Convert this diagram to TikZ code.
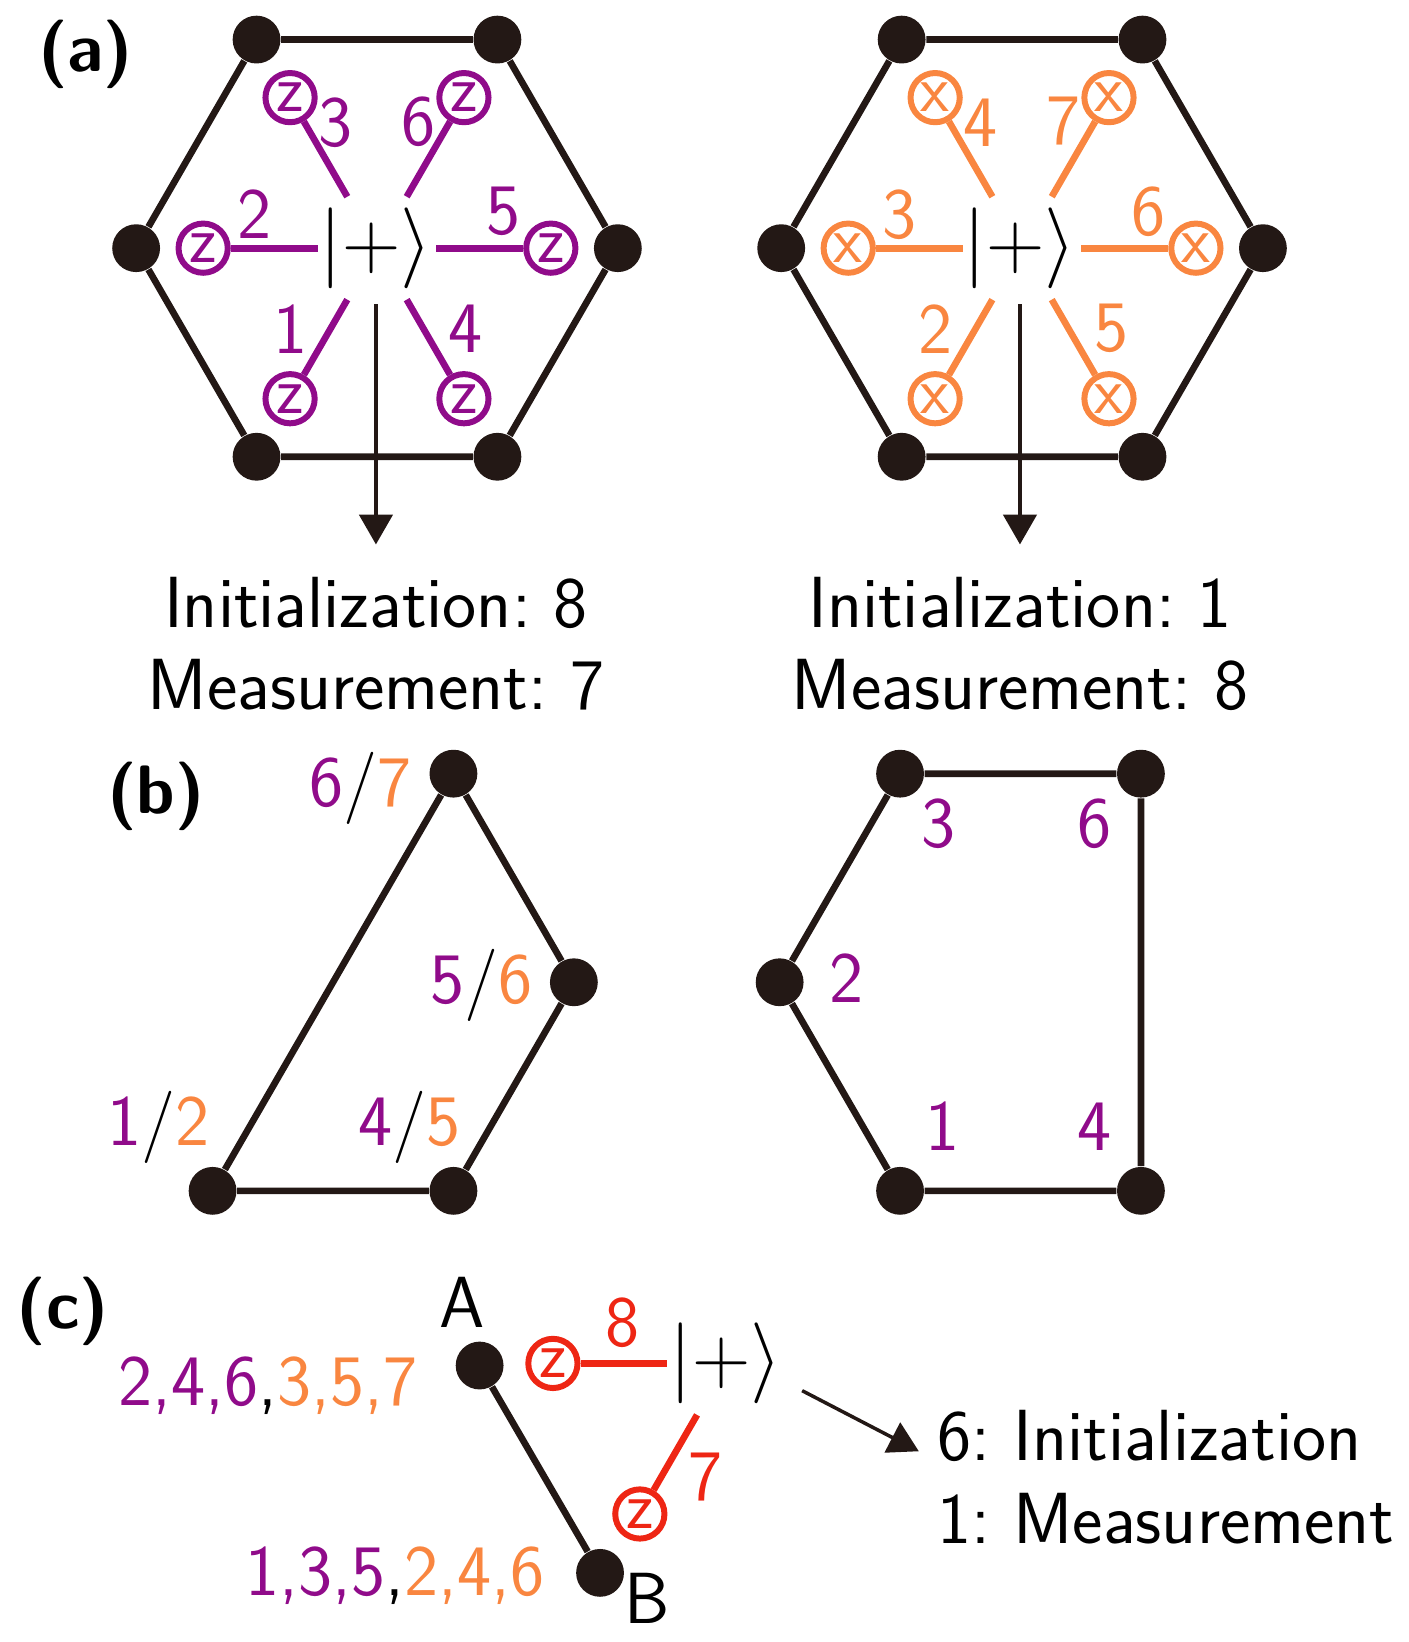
\documentclass[tikz,border=0pt]{standalone}
\usepackage{fix-cm}
\usepackage{fontspec}
\usepackage{xcolor}
\usepackage{tikz}
\usetikzlibrary{arrows.meta,positioning,calc}
\definecolor{qPurple}{HTML}{900B8A}
\definecolor{qOrange}{HTML}{F98640}
\definecolor{qRed}{HTML}{EE2614}
\definecolor{qInk}{HTML}{231815}
\frenchspacing

\begin{document}
\begin{tikzpicture}[x=0.10468mm, y=0.10468mm,
    font=\fontsize{20.6}{23.2}\selectfont\sffamily,
    dot/.style={circle, fill=qInk, inner sep=0pt, minimum size=13.6pt},
    edge/.style={qInk, line width=1.9pt},
    qbit/.style={circle, draw=#1, text=#1, line width=1.7pt, inner sep=0pt, minimum size=14pt,
        font=\fontsize{19}{20}\selectfont\sffamily},
    spoke/.style={draw=#1, line width=1.9pt, shorten >=16.9pt},
    ket/.style={inner sep=0pt, font=\fontsize{23}{27}\selectfont},
    flow/.style={-{Triangle[width=9.5pt, length=8.5pt]}, draw=qInk, fill=qInk, line width=1pt},
    tag/.style={font=\fontsize{19.5}{23.2}\selectfont\sffamily\bfseries},
    num/.style={inner sep=0pt}]
    \useasboundingbox (0,0) rectangle (1345,1568);

    % (a) two hexagons
    \node[tag] (tagA) at (81.5,1516.5) {(a)};
    \coordinate (cA) at (360,1331);
    \coordinate (cB) at (976,1331);
    \foreach \k in {1,...,6} {
        \node[dot] (hA\k) at ($(cA)+(\k*60-60:230)$) {};
        \node[dot] (hB\k) at ($(cB)+(\k*60-60:230)$) {};
    }
    \draw[edge] (hA1) -- (hA2) -- (hA3) -- (hA4) -- (hA5) -- (hA6) -- (hA1);
    \draw[edge] (hB1) -- (hB2) -- (hB3) -- (hB4) -- (hB5) -- (hB6) -- (hB1);
    \node[ket] (ketA) at (359,1331) {$|+\rangle$};
    \node[ket] (ketB) at (974,1331) {$|+\rangle$};
    \foreach \a/\n/\m/\lx/\ly in {240/1/2/-83/-77, 180/2/3/-117/32, 120/3/4/-40/120,
                                300/4/5/85/-77, 0/5/6/121/35, 60/6/7/40/121} {
        \node[qbit=qPurple] (zA\n) at ($(cA)+(\a:166)$) {z};
        \draw[spoke=qPurple] (zA\n) -- (cA);
        \node[num, text=qPurple] (nA\n) at ($(cA)+(\lx,\ly)$) {\n};
        \node[qbit=qOrange] (xB\m) at ($(cB)+(\a:166)$) {x};
        \draw[spoke=qOrange] (xB\m) -- (cB);
        \node[num, text=qOrange] (nB\m) at ($(cB)+(\lx,\ly)$) {\m};
    }
    \node[align=center, anchor=north, inner sep=0pt] (initA) at (359,1017.2)
        {Initialization: 8\\ Measurement: 7};
    \node[align=center, anchor=north, inner sep=0pt] (initB) at (974,1017.2)
        {Initialization: 1\\ Measurement: 8};
    \draw[flow, shorten <=4.2pt, shorten >=9.2pt] (ketA.south) -- (initA.north);
    \draw[flow, shorten <=4.2pt, shorten >=9.2pt] (ketB.south) -- (initB.north);

    % (b)
    \node[tag] (tagB) at (149,807.7) {(b)};
    \coordinate (cD) at (318,630);
    \coordinate (cE) at (974.5,630);
    \foreach \k/\a in {1/60, 2/0, 3/300, 4/240}
        \node[dot] (hD\k) at ($(cD)+(\a:230)$) {};
    \foreach \k/\a in {1/120, 2/60, 3/300, 4/240, 5/180}
        \node[dot] (hE\k) at ($(cE)+(\a:230)$) {};
    \draw[edge] (hD4) -- (hD1) -- (hD2) -- (hD3) -- (hD4);
    \draw[edge] (hE1) -- (hE2) -- (hE3) -- (hE4) -- (hE5) -- (hE1);
    \node[num, anchor=base] (lD1) at (344.7,797.4) {\textcolor{qPurple}{6}/\textcolor{qOrange}{7}};
    \node[num, anchor=base] (lD2) at (460,610) {\textcolor{qPurple}{5}/\textcolor{qOrange}{6}};
    \node[num, anchor=base] (lD3) at (391,474) {\textcolor{qPurple}{4}/\textcolor{qOrange}{5}};
    \node[num, anchor=base] (lD4) at (151,474) {\textcolor{qPurple}{1}/\textcolor{qOrange}{2}};
    \foreach \n/\px/\py in {3/896.4/758.5, 6/1045/758.5, 2/808.2/611, 1/900.2/469, 4/1045/469}
        \node[num, anchor=base, text=qPurple] (lE\n) at (\px,\py) {\n};

    % (c)
    \node[tag] (tagC) at (60,315.7) {(c)};
    \node[dot] (ptA) at (458,264) {};
    \node[dot] (ptB) at (573,66) {};
    \draw[edge] (ptA) -- (ptB);
    \node[num, anchor=base] (labA) at (441,300) {A};
    \node[num, anchor=base] (labB) at (618,18) {B};
    \coordinate (cC) at (694,266);
    \node[ket] (ketC) at (693,266) {$|+\rangle$};
    \node[qbit=qRed] (zC8) at ($(cC)+(180:166)$) {z};
    \node[qbit=qRed] (zC7) at ($(cC)+(240:166)$) {z};
    \draw[spoke=qRed] (zC8) -- (cC);
    \draw[spoke=qRed] (zC7) -- (cC);
    \node[num, text=qRed] (nC8) at (594,304.5) {8};
    \node[num, text=qRed] (nC7) at (673.5,157.5) {7};
    \node[num, anchor=base] (setA) at (256,226)
        {\textcolor{qPurple}{2,4,6},\textcolor{qOrange}{3,5,7}};
    \node[num, anchor=base] (setB) at (377,44.4)
        {\textcolor{qPurple}{1,3,5},\textcolor{qOrange}{2,4,6}};
    \node[num, anchor=base west] (initC) at (895,173) {6: Initialization};
    \node[num, anchor=base west] (measC) at (895,94) {1: Measurement};
    \coordinate (outC) at (766,240);
    \draw[flow, shorten >=5.9pt] (outC) -- (initC.base west);
\end{tikzpicture}
\end{document}
